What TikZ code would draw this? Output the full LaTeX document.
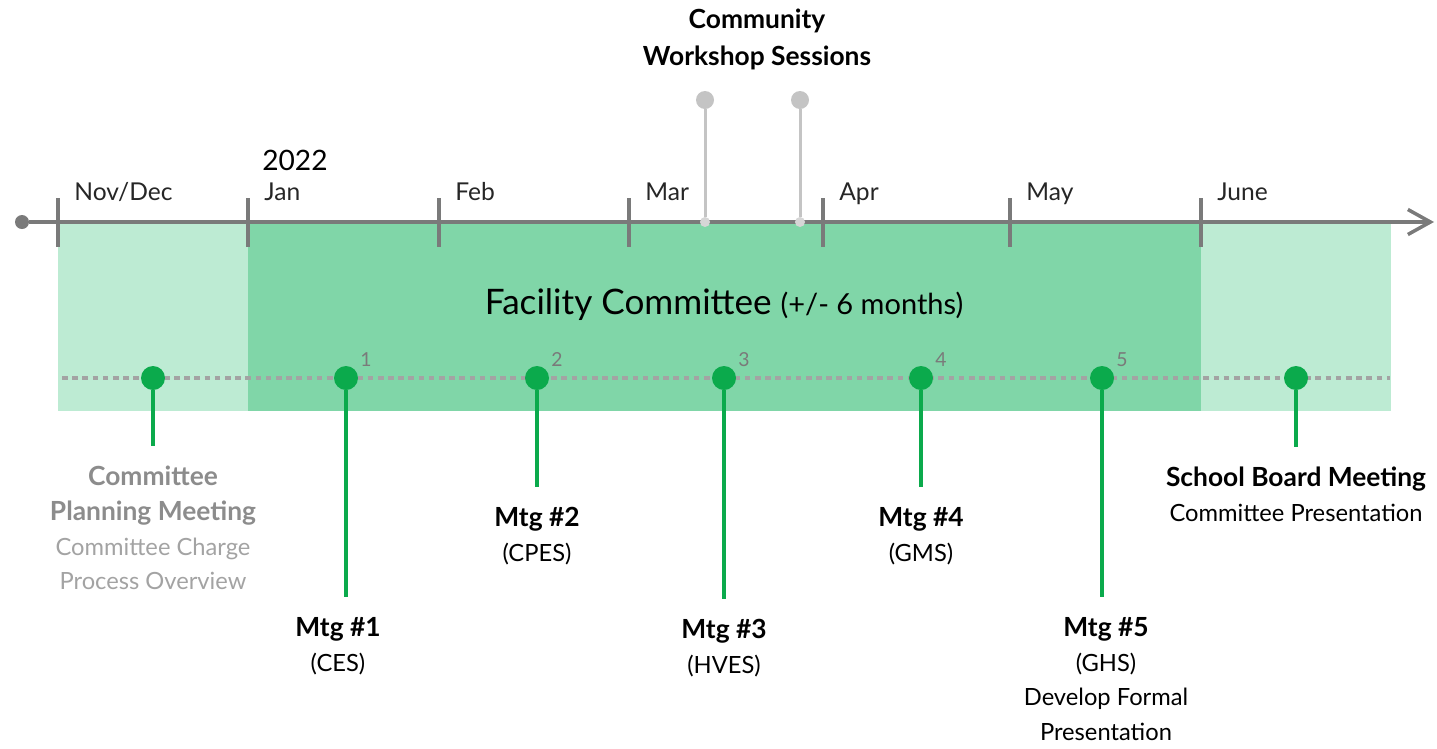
\documentclass[tikz,border=0pt]{standalone}
\usepackage{fontspec}
\setmainfont{Lato}
\usepackage{tikz}
\definecolor{green100}{HTML}{BDEBD3}
\definecolor{green300}{HTML}{80D6A8}
\definecolor{green600}{HTML}{0BAA4C}
\definecolor{gray700}{HTML}{7A7A7A}
\definecolor{gray500}{HTML}{8C8C8C}
\definecolor{gray400}{HTML}{A3A3A3}
\definecolor{gray300}{HTML}{C4C4C4}
\usetikzlibrary{arrows.meta}
\newcommand{\bigbold}{\bfseries\fontsize{15}{19.7}\selectfont}
\tikzstyle{meeting}=[circle, fill=green600, inner sep=0pt, minimum size=0.48cm]
\tikzstyle{stem}=[draw=green600, line width=2.3pt, shorten >=0.4cm]
\tikzstyle{pinhead}=[circle, fill=gray300, inner sep=0pt, minimum size=0.36cm]
\tikzstyle{pinfoot}=[circle, fill=gray300!70, inner sep=0pt, minimum size=0.2cm]
\tikzstyle{month}=[font=\fontsize{14}{16}\selectfont, text=black!85, inner sep=0pt]
\tikzstyle{caption}=[font=\fontsize{13.5}{19.7}\selectfont, align=center, inner sep=0pt, anchor=north]
\tikzstyle{num}=[font=\fontsize{11}{13}\selectfont, text=gray700, inner sep=0pt]

\begin{document}
\begin{tikzpicture}[x=0.02cm, y=-0.02cm]
	\useasboundingbox (0,0) rectangle (1437,748);
	% committee bands
	\fill[green100] (58,222) rectangle (1391,411);
	\fill[green300] (248,222) rectangle (1201,411);
	\node[font=\fontsize{20}{24}\selectfont] (fc) at (724,305) {Facility Committee {\fontsize{16.5}{20}\selectfont (+/- 6 months)}};
	% time axis
	\node[circle, fill=gray700, inner sep=0pt, minimum size=0.28cm] (start) at (22,222) {};
	\coordinate (end) at (1434,222);
	\draw[gray700, line width=2.3pt, -{Straight Barb[length=0.45cm, width=0.5cm, line width=2pt]}] (start) -- (end);
	\foreach \x/\m in {58/{Nov/Dec}, 248/Jan, 439/Feb, 629/Mar, 823/Apr, 1010/May, 1201/June}{
		\draw[gray700, line width=2.3pt] (\x,198) -- (\x,247);
		\node[month, anchor=base west] (m\x) at (\x+16,200) {\m};
	}
	\node[font=\fontsize{16}{19}\selectfont, anchor=base west, inner sep=0pt] (year) at (262,170) {2022};
	% workshop sessions
	\node[caption, font=\bfseries\fontsize{15}{21}\selectfont] (ws) at (757,9) {Community\\Workshop Sessions};
	\node[pinhead] (w1) at (705,100) {};
	\node[pinhead] (w2) at (800,100) {};
	\node[pinfoot] (w1a) at (705,222) {};
	\node[pinfoot] (w2a) at (800,222) {};
	\draw[gray300, line width=1.7pt] (w1) -- (w1a);
	\draw[gray300, line width=1.7pt] (w2) -- (w2a);
	% meetings
	\coordinate (dl) at (62,378);
	\coordinate (dr) at (1390,378);
	\draw[gray400, line width=2.6pt, dash pattern=on 3.2pt off 2.6pt] (dl) -- (dr);
	\node[meeting] (dp) at (153,378) {};
	\node[meeting] (db) at (1296,378) {};
	\foreach \x/\n in {346/1, 537/2, 724/3, 921/4, 1102/5}{
		\node[meeting] (d\n) at (\x,378) {};
		\node[num, anchor=base west] (n\n) at (\x+14,366) {\n};
	}
	\node[caption, text=gray400] (lp) at (153,466) {{\bigbold\color{gray500}Committee}\\{\bigbold\color{gray500}Planning Meeting}\\Committee Charge\\Process Overview};
	\node[caption] (l1) at (338,617) {{\bigbold Mtg \#1}\\(CES)};
	\node[caption] (l2) at (537,507) {{\bigbold Mtg \#2}\\(CPES)};
	\node[caption] (l3) at (724,619) {{\bigbold Mtg \#3}\\(HVES)};
	\node[caption] (l4) at (921,507) {{\bigbold Mtg \#4}\\(GMS)};
	\node[caption] (l5) at (1106,617) {{\bigbold Mtg \#5}\\(GHS)\\Develop Formal\\Presentation};
	\node[caption] (lb) at (1296,467) {{\bigbold School Board Meeting}\\Committee Presentation};
	\draw[stem] (dp) -- (dp |- lp.north);
	\draw[stem] (d1) -- (d1 |- l1.north);
	\draw[stem] (d2) -- (d2 |- l2.north);
	\draw[stem] (d3) -- (d3 |- l3.north);
	\draw[stem] (d4) -- (d4 |- l4.north);
	\draw[stem] (d5) -- (d5 |- l5.north);
	\draw[stem] (db) -- (db |- lb.north);
\end{tikzpicture}
\end{document}
